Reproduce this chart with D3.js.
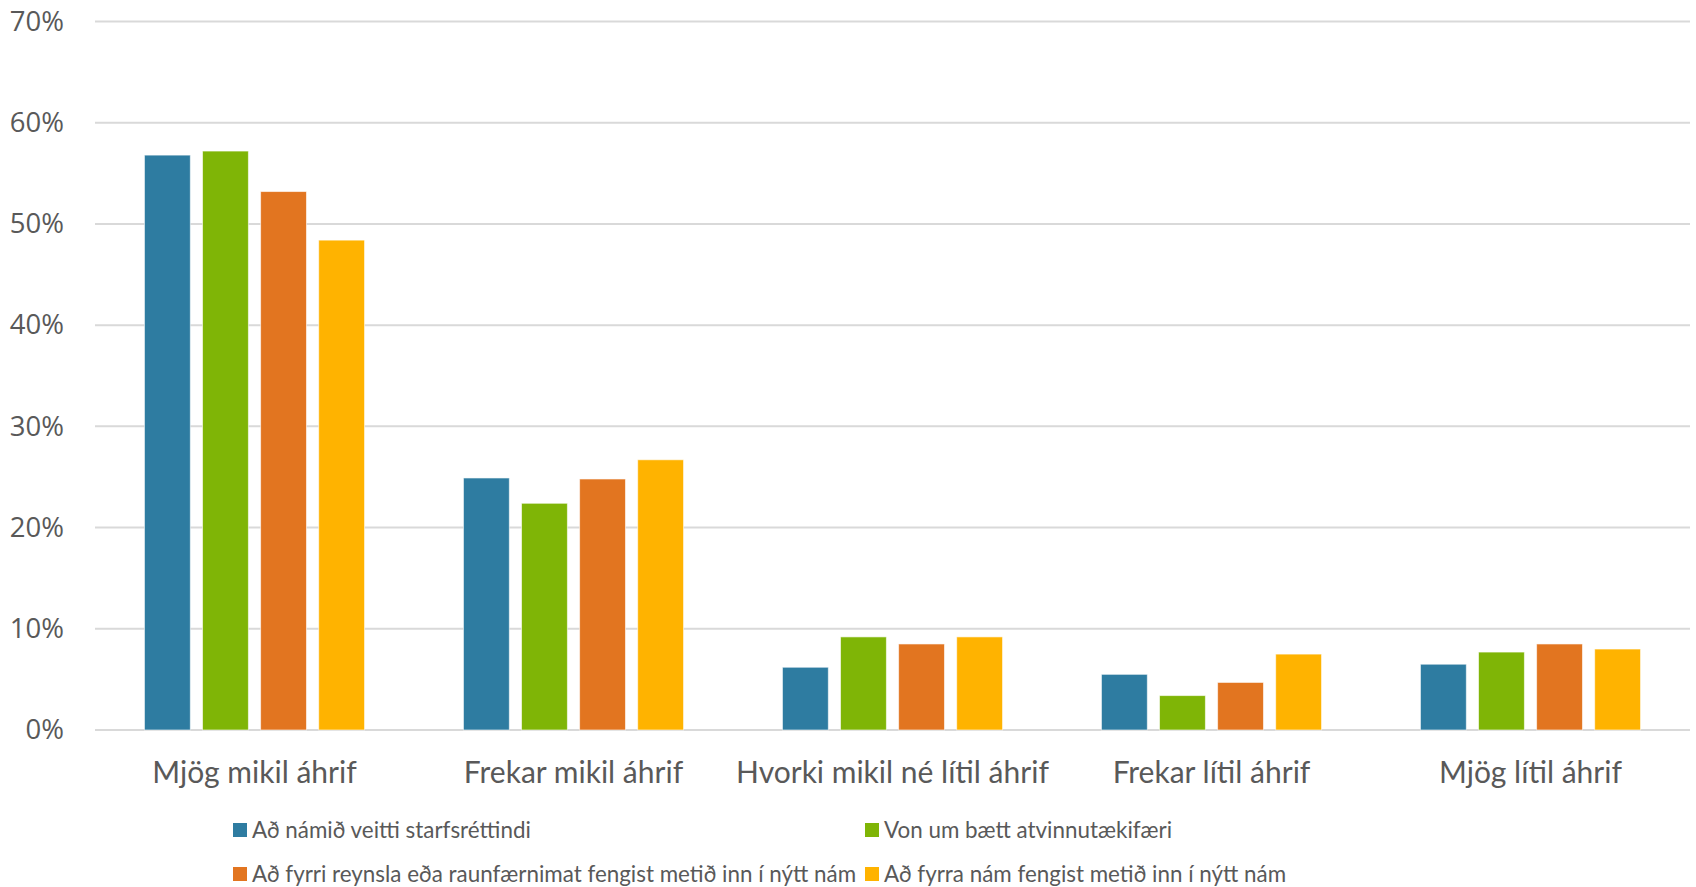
<!DOCTYPE html>
<html><head><meta charset="utf-8">
<script src="https://cdn.jsdelivr.net/npm/d3@7"></script>
<style>
html,body{margin:0;padding:0;background:#fff;}
svg{display:block;}
</style></head>
<body>
<svg id="chart" width="1696" height="887"></svg>
<script>
const categories = ["Mjög mikil áhrif","Frekar mikil áhrif","Hvorki mikil né lítil áhrif","Frekar lítil áhrif","Mjög lítil áhrif"];
const seriesNames = ["Að námið veitti starfsréttindi","Von um bætt atvinnutækifæri","Að fyrri reynsla eða raunfærnimat fengist metið inn í nýtt nám","Að fyrra nám fengist metið inn í nýtt nám"];
const seriesColors = ["#2E7CA1","#7FB506","#E27520","#FFB300"];
const valuesStarfsrettindi = [0.568, 0.249, 0.062, 0.055, 0.065];
const valuesAtvinnutaekifaeri = [0.572, 0.224, 0.092, 0.034, 0.077];
const valuesReynsla = [0.532, 0.248, 0.085, 0.047, 0.085];
const valuesFyrraNam = [0.484, 0.267, 0.092, 0.075, 0.080];
const yTicks = [0,0.1,0.2,0.3,0.4,0.5,0.6,0.7];

const seriesValues = [valuesStarfsrettindi, valuesAtvinnutaekifaeri, valuesReynsla, valuesFyrraNam];

const svg = d3.select("#chart");
const mLeft = 95, mRight = 1690, mTop = 21.5, mBottom = 730;

const y = d3.scaleLinear().domain([0,0.7]).range([mBottom, mTop]);
const x0 = d3.scaleBand().domain(categories).range([mLeft, mRight]).paddingInner(0.31).paddingOuter(0.155);
const x1 = d3.scaleBand().domain(d3.range(seriesNames.length)).range([0, x0.bandwidth()]).paddingInner(0.21);

// gridlines
svg.append("g").selectAll("line").data(yTicks).join("line")
  .attr("x1", mLeft).attr("x2", mRight)
  .attr("y1", d => y(d)).attr("y2", d => y(d))
  .attr("stroke", "#d9d9d9").attr("stroke-width", 2);

// y axis labels
const yAxis = d3.axisLeft(y).tickValues(yTicks).tickFormat(d3.format(".0%")).tickSize(0).tickPadding(0);
const ya = svg.append("g").attr("transform", `translate(64,0)`).call(yAxis);
ya.select(".domain").remove();
ya.selectAll("text").attr("font-family","'Open Sans', sans-serif").attr("font-size", 27.5).attr("fill","#595959");

// bars
const groups = svg.append("g").selectAll("g").data(categories).join("g")
  .attr("transform", d => `translate(${x0(d)},0)`);
groups.selectAll("rect").data((c, ci) => seriesValues.map((vals, si) => ({si, v: vals[ci]}))).join("rect")
  .attr("x", d => x1(d.si)).attr("width", x1.bandwidth())
  .attr("y", d => y(d.v)).attr("height", d => y(0) - y(d.v))
  .attr("fill", d => seriesColors[d.si])
  .attr("stroke", "rgba(255,255,255,0.6)").attr("stroke-width", 1);

// x axis labels
const xAxis = d3.axisBottom(x0).tickSize(0).tickPadding(0);
const xa = svg.append("g").attr("transform", `translate(0,${mBottom})`).call(xAxis);
xa.select(".domain").remove();
xa.selectAll("text").attr("dy", null).attr("y", 53)
  .attr("font-family","Lato, sans-serif").attr("font-size", 30).attr("fill","#595959");

// legend
const legendPos = [[233,823],[865,823],[233,867],[865,867]];
const lg = svg.append("g").selectAll("g").data(seriesNames).join("g")
  .attr("transform", (d,i) => `translate(${legendPos[i][0]},${legendPos[i][1]})`);
lg.append("rect").attr("width",14).attr("height",14).attr("fill",(d,i)=>seriesColors[i]);
lg.append("text").attr("x",19).attr("y",14.5).text(d=>d)
  .attr("font-family","Lato, sans-serif").attr("font-size",22.4).attr("fill","#595959");
</script>
</body></html>
